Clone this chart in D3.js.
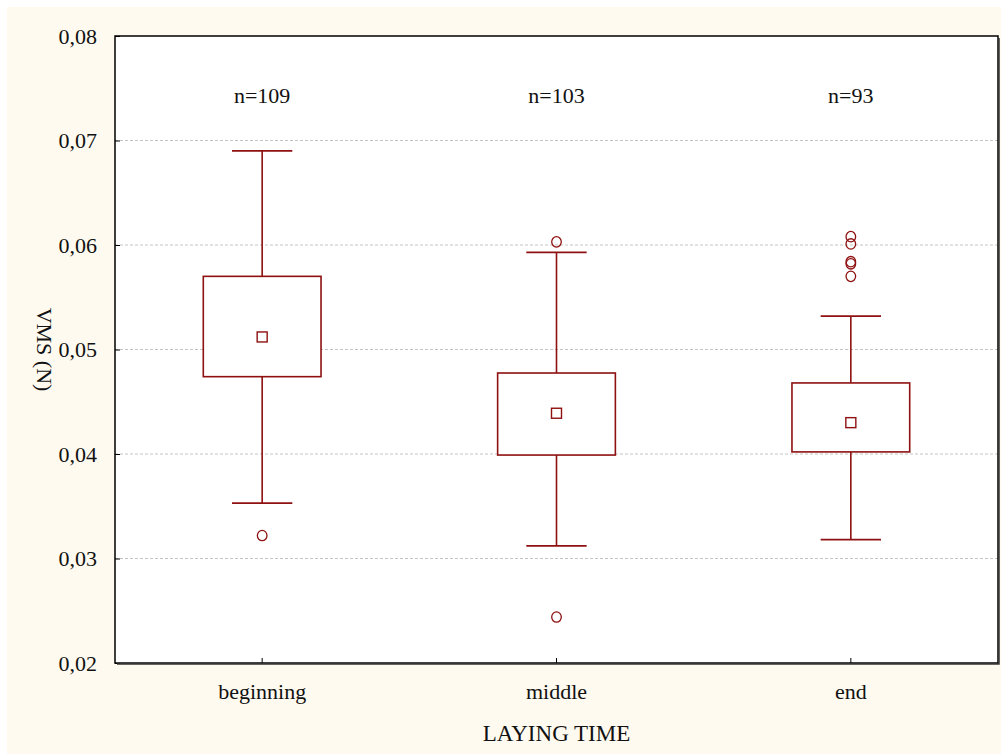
<!DOCTYPE html>
<html><head><meta charset="utf-8">
<script src="https://cdn.jsdelivr.net/npm/d3@7"></script>
<style>body{margin:0;background:#fff}svg{display:block}svg text{font-family:"Liberation Serif","Times New Roman",serif !important;fill:#111}</style>
</head><body>
<script>
const categories = ["beginning", "middle", "end"];
const counts = ["n=109", "n=103", "n=93"];
const whiskerHigh = [0.0690, 0.0593, 0.0532];
const boxHigh = [0.0570, 0.04775, 0.0468];
const means = [0.0512, 0.0439, 0.0430];
const boxLow = [0.0474, 0.0399, 0.0402];
const whiskerLow = [0.0353, 0.0312, 0.0318];
const outliers = [[0.0322], [0.0603, 0.0244], [0.0608, 0.0601, 0.0584, 0.0582, 0.0570]];
const yTicks = [0.02, 0.03, 0.04, 0.05, 0.06, 0.07, 0.08];
const yTickLabels = ["0,02", "0,03", "0,04", "0,05", "0,06", "0,07", "0,08"];
const countLabelY = 0.0744;

const W = 1001, H = 754;
const m = {l: 115, r: 1001 - 998, t: 36, b: 754 - 663};
const col = "#8e1010";
const FF = '"Liberation Serif", "Times New Roman", serif';

const svg = d3.select("body").append("svg").attr("width", W).attr("height", H)
  .attr("font-family", FF);
svg.append("rect").attr("x", 7).attr("y", 7).attr("width", W - 7).attr("height", H - 7).attr("fill", "#fefaef");

const x = d3.scaleBand().domain(categories).range([m.l, W - m.r]).padding(0);
const y = d3.scaleLinear().domain([0.02, 0.08]).range([H - m.b, m.t]);

svg.append("rect").attr("x", m.l).attr("y", m.t).attr("width", W - m.r - m.l).attr("height", H - m.b - m.t).attr("fill", "#fff");

// grid
svg.append("g").selectAll("line").data(yTicks.slice(1, -1)).join("line")
  .attr("x1", m.l).attr("x2", W - m.r).attr("y1", d => y(d)).attr("y2", d => y(d))
  .attr("stroke", "#c4c4c4").attr("stroke-width", 1).attr("stroke-dasharray", "3,2");

// axes
const yAxis = d3.axisLeft(y).tickValues(yTicks).tickFormat((d, i) => yTickLabels[i]).tickSizeInner(-5).tickSizeOuter(0).tickPadding(18);
const gy = svg.append("g").attr("transform", `translate(${m.l},0)`).call(yAxis).attr("font-family", FF);
gy.select(".domain").remove();
gy.selectAll("line").attr("stroke", "#000");
gy.selectAll("text").style("font-size", "22px").style("font-family", FF).attr("fill", "#111");

const xAxis = d3.axisBottom(x).tickSizeInner(-5).tickSizeOuter(0).tickPadding(20);
const gx = svg.append("g").attr("transform", `translate(0,${H - m.b})`).call(xAxis).attr("font-family", FF);
gx.select(".domain").remove();
gx.selectAll("line").attr("stroke", "#000");
gx.selectAll("text").style("font-size", "22px").style("font-family", FF).attr("fill", "#111");

const bw = x.bandwidth();
const g = svg.append("g");
categories.forEach((c, i) => {
  const cx = x(c) + bw / 2;
  const boxW = bw * 0.4, capW = bw * 0.205;
  g.append("line").attr("x1", cx).attr("x2", cx).attr("y1", y(whiskerHigh[i])).attr("y2", y(boxHigh[i])).attr("stroke", col).attr("stroke-width", 1.6);
  g.append("line").attr("x1", cx).attr("x2", cx).attr("y1", y(boxLow[i])).attr("y2", y(whiskerLow[i])).attr("stroke", col).attr("stroke-width", 1.6);
  g.append("line").attr("x1", cx - capW / 2).attr("x2", cx + capW / 2).attr("y1", y(whiskerHigh[i])).attr("y2", y(whiskerHigh[i])).attr("stroke", col).attr("stroke-width", 1.8);
  g.append("line").attr("x1", cx - capW / 2).attr("x2", cx + capW / 2).attr("y1", y(whiskerLow[i])).attr("y2", y(whiskerLow[i])).attr("stroke", col).attr("stroke-width", 1.8);
  g.append("rect").attr("x", cx - boxW / 2).attr("y", y(boxHigh[i])).attr("width", boxW).attr("height", y(boxLow[i]) - y(boxHigh[i]))
    .attr("fill", "#fff").attr("stroke", col).attr("stroke-width", 1.6);
  g.append("rect").attr("x", cx - 5).attr("y", y(means[i]) - 5).attr("width", 10).attr("height", 10).attr("fill", "none").attr("stroke", col).attr("stroke-width", 1.4);
  g.selectAll(null).data(outliers[i]).join("ellipse").attr("cx", cx).attr("cy", d => y(d)).attr("rx", 4.8).attr("ry", 5.2)
    .attr("fill", "none").attr("stroke", col).attr("stroke-width", 1.3);
  svg.append("text").attr("x", cx).attr("y", y(countLabelY) + 8).attr("text-anchor", "middle").style("font-size", "22px").style("font-family", FF).text(counts[i]);
});

// frame
svg.append("rect").attr("x", m.l).attr("y", m.t).attr("width", W - m.r - m.l).attr("height", H - m.b - m.t).attr("fill", "none").attr("stroke", "#000").attr("stroke-width", 1.5);
svg.append("path").attr("d", `M${m.l + 2},${H - m.b + 1}H${W - m.r + 1}V${m.t + 2}`).attr("fill", "none").attr("stroke", "#333").attr("stroke-width", 1.5);

svg.append("text").attr("x", (m.l + W - m.r) / 2).attr("y", 741).attr("text-anchor", "middle").style("font-size", "23px").style("font-family", FF).text("LAYING TIME");
svg.append("text").attr("transform", `translate(37,${(m.t + H - m.b) / 2}) rotate(90)`).attr("text-anchor", "middle").style("font-size", "22px").style("font-family", FF).text("VMS (N)");
</script>
</body></html>
